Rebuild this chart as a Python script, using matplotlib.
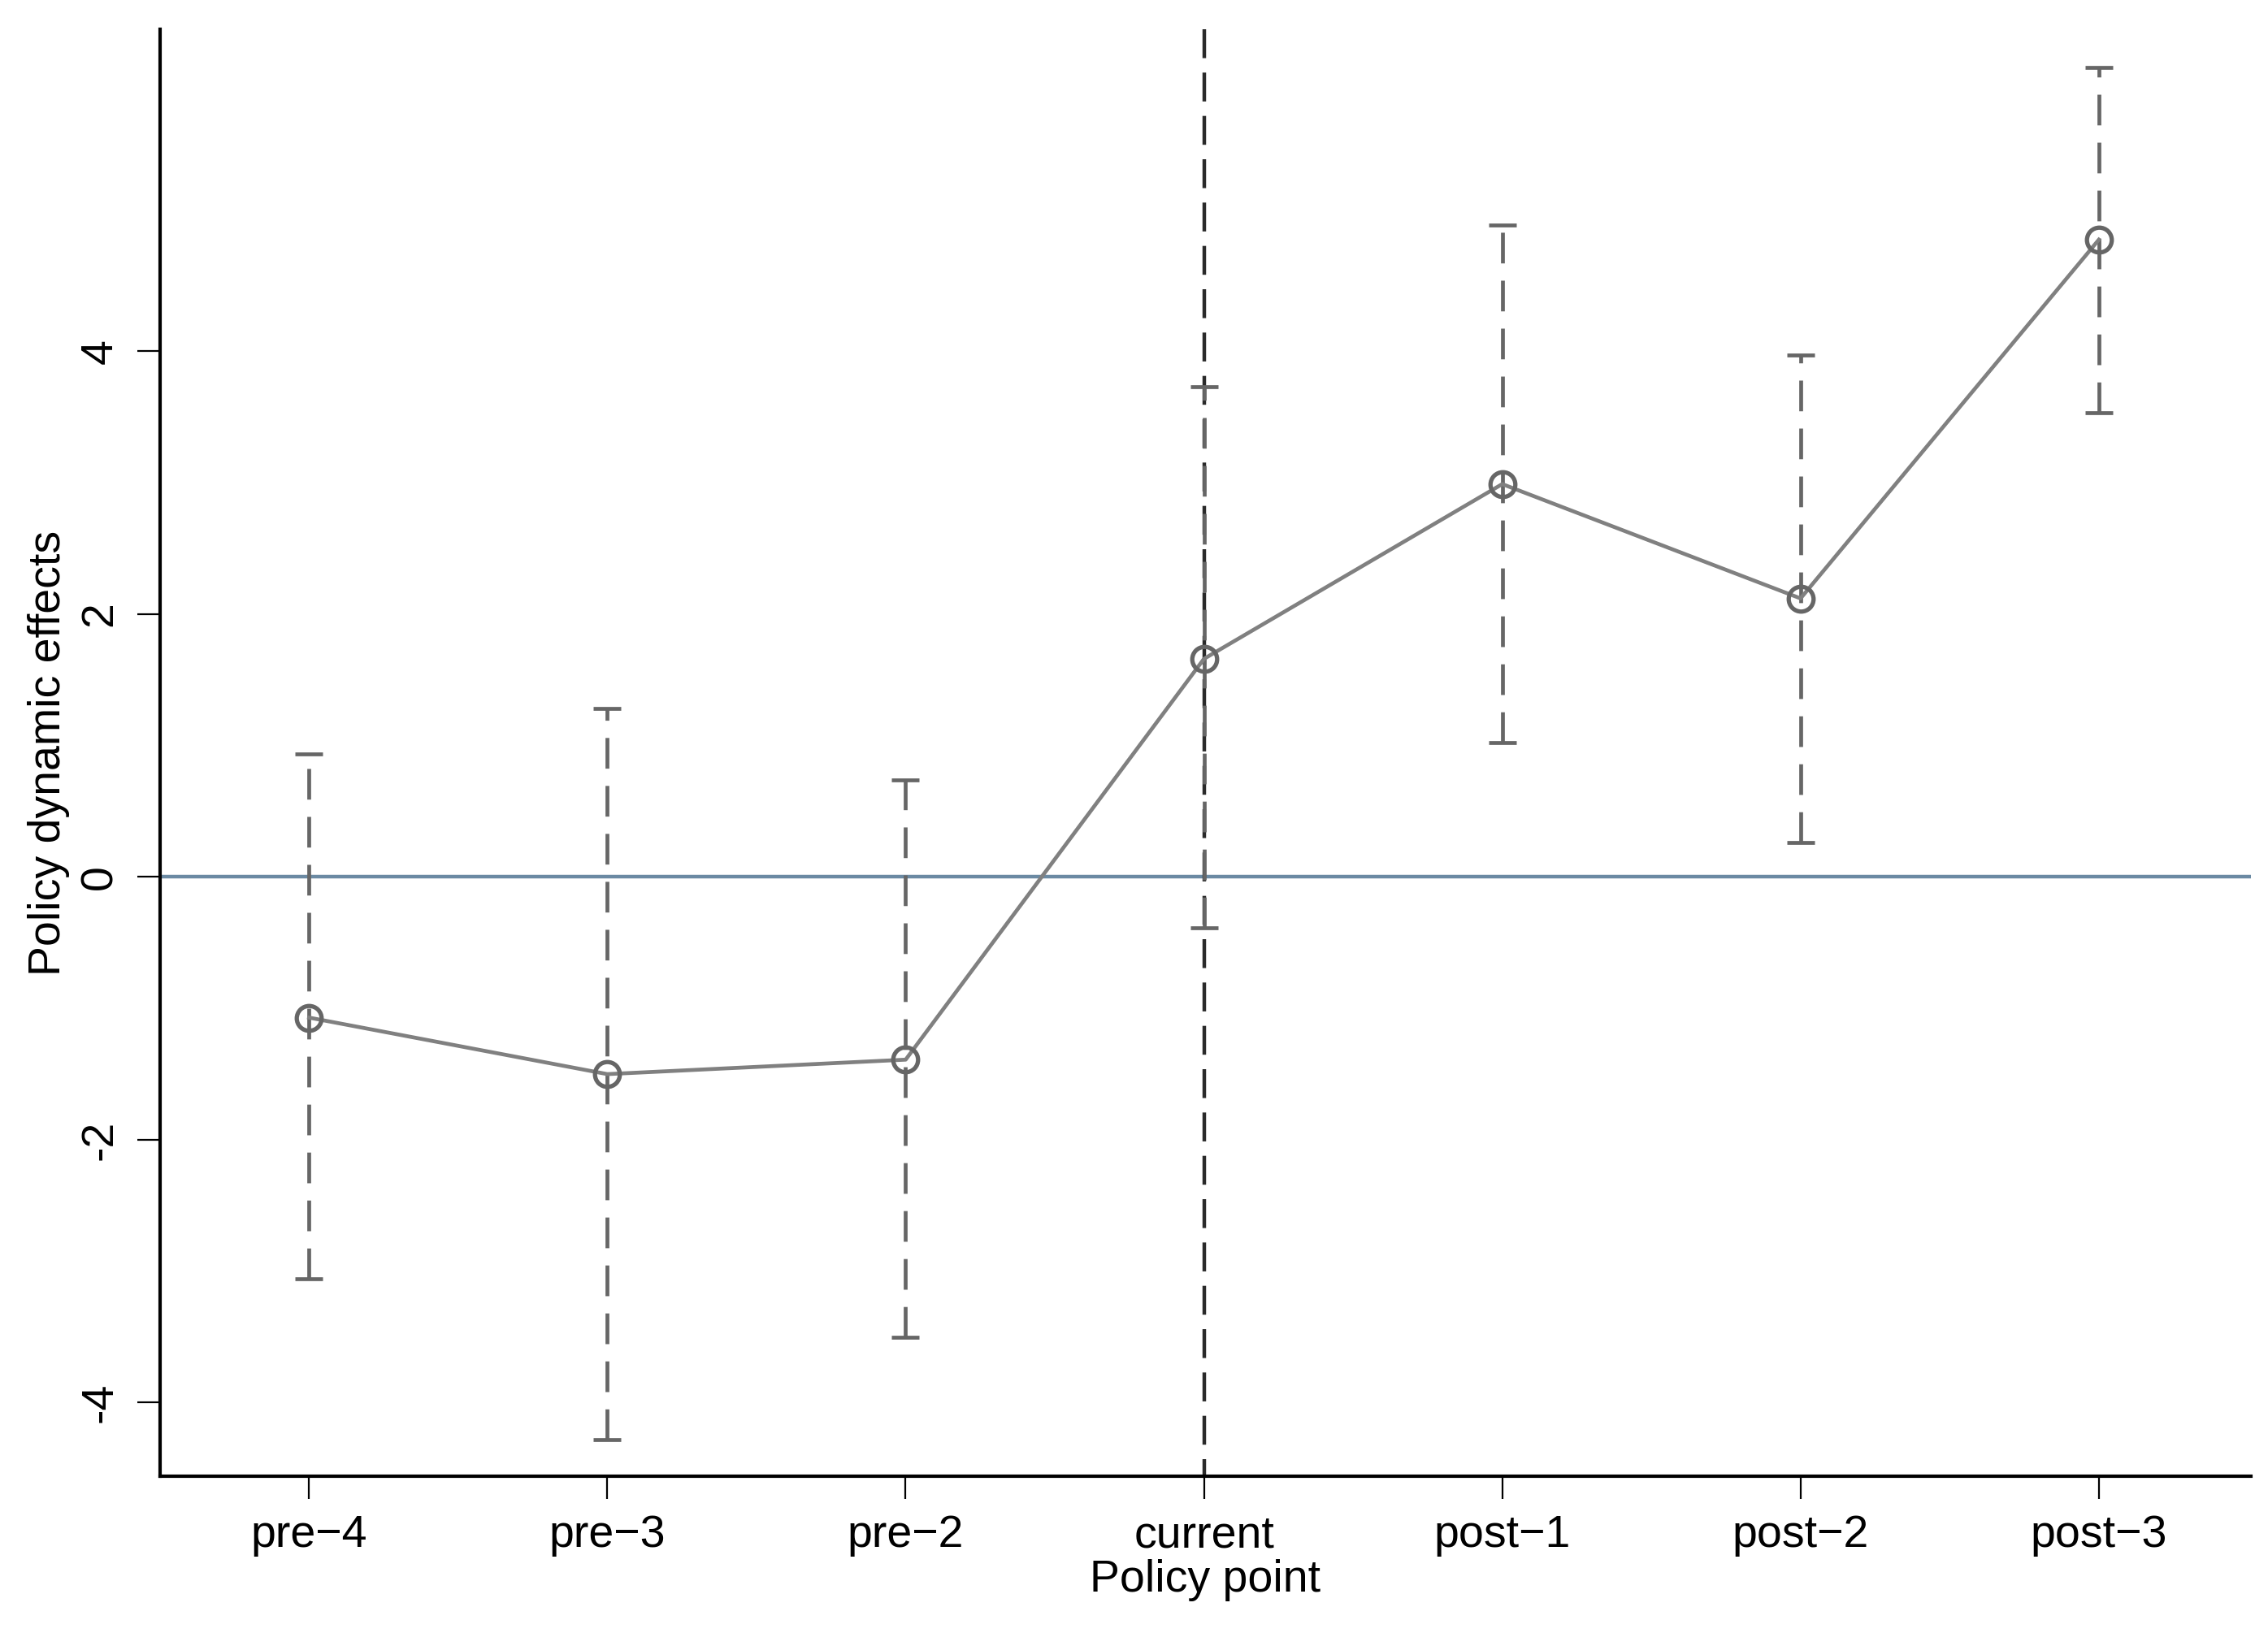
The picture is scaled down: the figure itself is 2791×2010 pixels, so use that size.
import matplotlib
matplotlib.use("Agg")
import matplotlib.pyplot as plt
import numpy as np

plt.rcParams['font.family'] = ['Liberation Sans Narrow', 'Liberation Sans', 'DejaVu Sans']

# data
periods = ["pre\u22124", "pre\u22123", "pre\u22122", "current", "post\u22121", "post\u22122", "post\u22123"]
coef = [-1.07, -1.50, -1.39, 1.66, 2.99, 2.12, 4.85]
ci_low = [-3.06, -4.28, -3.50, -0.385, 1.02, 0.26, 3.53]
ci_high = [0.935, 1.28, 0.74, 3.73, 4.96, 3.97, 6.16]
yticks = [-4, -2, 0, 2, 4]
policy_idx = 3

x = np.arange(len(periods))
coef = np.array(coef)
err = np.vstack([coef - np.array(ci_low), np.array(ci_high) - coef])

fig = plt.figure(figsize=(13.955, 10.05), dpi=200)
ax = fig.add_axes([0.0705, 0.096, 0.922, 0.886])

# zero line and policy-point line (dashes start from the top)
ax.axhline(0, color='#6b8aa3', lw=1.6, zorder=1)
ax.plot([policy_idx, policy_idx], [1, 0], transform=ax.get_xaxis_transform(),
        color='#2a2a2a', lw=1.6, ls=(0, (8, 4)), zorder=2)

# confidence intervals
eb = ax.errorbar(x, coef, yerr=err, fmt='none', ecolor='#666666', elinewidth=1.7,
                 capsize=6, capthick=1.7, zorder=3)
for lc in eb[2]:
    lc.set_linestyle((0, (8, 4.5)))

ax.plot(x, coef, color='#808080', lw=1.7, zorder=4)
ax.plot(x, coef, ls='none', marker='o', ms=11, mfc='none', mec='#666666', mew=1.9, zorder=5)

ax.set_xlim(-0.5, 6.51)
ax.set_ylim(-4.56, 6.45)
ax.set_xticks(x)
ax.set_xticklabels(periods, fontsize=20)
ax.set_yticks(yticks)
ax.set_yticklabels([str(v) for v in yticks], fontsize=20, rotation=90, va='center')
ax.tick_params(direction='out', length=10, width=0.8, pad=7)
ax.set_xlabel('Policy point', fontsize=20, labelpad=1)
ax.set_ylabel('Policy dynamic effects', fontsize=20, labelpad=4)

for s in ['top', 'right']:
    ax.spines[s].set_visible(False)
for s in ['left', 'bottom']:
    ax.spines[s].set_linewidth(1.5)

fig.savefig('out.png', dpi=200)
